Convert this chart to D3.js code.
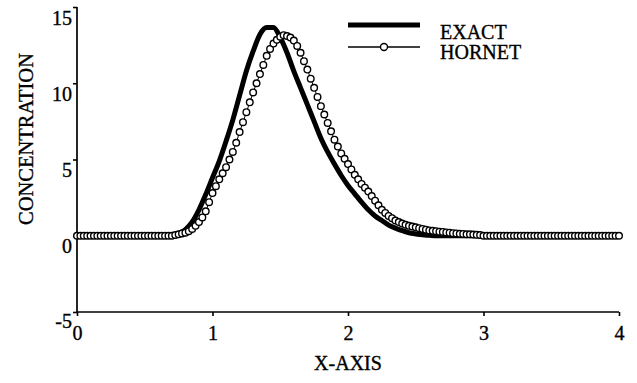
<!DOCTYPE html>
<html>
<head>
<meta charset="utf-8">
<script src="https://cdn.jsdelivr.net/npm/d3@7"></script>
<style>
  html, body { margin: 0; padding: 0; background: #fff; }
  svg { display: block; }
  text { font-family: "Liberation Serif", "Times New Roman", serif; fill: #000; stroke: #000; stroke-width: 0.35px; }
</style>
</head>
<body>
<svg id="chart" width="637" height="383"></svg>
<script>
// Exact solution, sampled every 0.05 on x from 0 to 4
const exactStep = 0.05;
const exactValues = [
  0, 0, 0, 0, 0, 0, 0, 0, 0, 0,
  0, 0, 0, 0, 0, 0.15, 0.4, 0.9, 1.7, 2.7,
  3.8, 4.9, 6.2, 7.6, 9.2, 10.8, 12.1, 13.2, 13.65, 13.65,
  13.0, 12.0, 10.8, 9.7, 8.6, 7.5, 6.4, 5.5, 4.7, 3.95,
  3.3, 2.75, 2.2, 1.7, 1.3, 1.0, 0.7, 0.5, 0.33, 0.2,
  0.12, 0.06, 0.03, 0, 0, 0, 0, 0, 0, 0,
  0, 0, 0, 0, 0, 0, 0, 0, 0, 0,
  0, 0, 0, 0, 0, 0, 0, 0, 0, 0,
  0
];

// HORNET result, sampled every 0.025 on x from 0 to 4
const hornetStep = 0.025;
const hornetValues = [
  0, 0, 0, 0, 0, 0, 0, 0, 0, 0,
  0, 0, 0, 0, 0, 0, 0, 0, 0, 0,
  0, 0, 0, 0, 0, 0, 0, 0, 0, 0.05,
  0.1, 0.15, 0.2, 0.3, 0.45, 0.65, 0.9, 1.2, 1.6, 2.2,
  2.8, 3.25, 3.7, 4.1, 4.5, 5.0, 5.5, 6.1, 6.8, 7.45,
  8.1, 8.75, 9.4, 10.0, 10.6, 11.2, 11.8, 12.25, 12.6, 12.85,
  13.05, 13.15, 13.1, 13.0, 12.8, 12.45, 12.0, 11.45, 10.9, 10.3,
  9.7, 9.1, 8.5, 7.95, 7.4, 6.85, 6.3, 5.85, 5.4, 5.05,
  4.7, 4.35, 4.0, 3.7, 3.4, 3.15, 2.9, 2.6, 2.3, 2.0,
  1.7, 1.5, 1.3, 1.15, 1.0, 0.9, 0.8, 0.72, 0.65, 0.6,
  0.55, 0.5, 0.45, 0.4, 0.35, 0.32, 0.3, 0.27, 0.25, 0.22,
  0.2, 0.17, 0.15, 0.13, 0.12, 0.1, 0.1, 0.08, 0.06, 0.05,
  0, 0, 0, 0, 0, 0, 0, 0, 0, 0,
  0, 0, 0, 0, 0, 0, 0, 0, 0, 0,
  0, 0, 0, 0, 0, 0, 0, 0, 0, 0,
  0, 0, 0, 0, 0, 0, 0, 0, 0, 0,
  0
];

const xTicks = [0, 1, 2, 3, 4];
const yTicks = [-5, 0, 5, 10, 15];
const seriesNames = ["EXACT", "HORNET"];
const xTitle = "X-AXIS";
const yTitle = "CONCENTRATION";

const exactData = exactValues.map((v, i) => ({ x: i * exactStep, y: v }));
const hornetData = hornetValues.map((v, i) => ({ x: i * hornetStep, y: v }));

const svg = d3.select("#chart");
const plotLeft = 77, plotRight = 619, plotTop = 7, plotBottom = 312;

const x = d3.scaleLinear().domain([0, 4]).range([plotLeft, plotRight]);
const y = d3.scaleLinear().domain([-5, 15]).range([plotBottom, plotTop]);

// Plain hyphen for negative tick labels
const fmt = d => String(d);

// Axes
const xAxis = d3.axisBottom(x).tickValues(xTicks).tickSize(4).tickPadding(10).tickFormat(fmt);
const gx = svg.append("g").attr("transform", `translate(0,${plotBottom})`).call(xAxis);
gx.select(".domain").attr("d", `M${plotLeft},0H${plotRight}`).attr("stroke", "#000").attr("stroke-width", 1.7);
gx.selectAll(".tick line").attr("stroke", "#000").attr("stroke-width", 1.6);
gx.selectAll(".tick text").attr("font-size", 20).attr("font-family", "Liberation Serif").attr("fill", "#000");

const yAxis = d3.axisLeft(y).tickValues(yTicks).tickSize(4).tickPadding(1).tickFormat(fmt);
const gy = svg.append("g").attr("transform", `translate(${plotLeft},0)`).call(yAxis);
gy.select(".domain").attr("d", `M0,${plotTop}V${plotBottom}`).attr("stroke", "#000").attr("stroke-width", 1.7);
gy.selectAll(".tick line").attr("stroke", "#000").attr("stroke-width", 1.6);
gy.selectAll(".tick text").attr("font-size", 20).attr("font-family", "Liberation Serif")
  .attr("fill", "#000").attr("dy", d => d < 0 ? "0.75em" : "0.85em");

// Axis titles
svg.append("text").attr("x", (plotLeft + plotRight) / 2).attr("y", 370)
  .attr("text-anchor", "middle").attr("font-size", 20).text(xTitle);
svg.append("text").attr("transform", "translate(33,139) rotate(-90)")
  .attr("text-anchor", "middle").attr("font-size", 20.5).text(yTitle);

// Exact curve: heavy line
const exactLine = d3.line().x(d => x(d.x)).y(d => y(d.y)).curve(d3.curveMonotoneX);
svg.append("path").datum(exactData).attr("d", exactLine)
  .attr("fill", "none").attr("stroke", "#000").attr("stroke-width", 5)
  .attr("stroke-linejoin", "round").attr("stroke-linecap", "round");

// HORNET: thin line with open circles
const hornetLine = d3.line().x(d => x(d.x)).y(d => y(d.y));
svg.append("path").datum(hornetData).attr("d", hornetLine)
  .attr("fill", "none").attr("stroke", "#000").attr("stroke-width", 1);
svg.append("g").selectAll("circle").data(hornetData).join("circle")
  .attr("cx", d => x(d.x)).attr("cy", d => y(d.y)).attr("r", 3.3)
  .attr("fill", "#fff").attr("stroke", "#000").attr("stroke-width", 1.4);

// Legend
const lg = svg.append("g");
lg.append("line").attr("x1", 348).attr("x2", 420).attr("y1", 25).attr("y2", 25)
  .attr("stroke", "#000").attr("stroke-width", 5);
lg.append("line").attr("x1", 348).attr("x2", 420).attr("y1", 47).attr("y2", 47)
  .attr("stroke", "#000").attr("stroke-width", 1.6);
lg.append("circle").attr("cx", 384).attr("cy", 47).attr("r", 3.5)
  .attr("fill", "#fff").attr("stroke", "#000").attr("stroke-width", 1.4);
lg.append("text").attr("x", 440).attr("y", 39).attr("font-size", 20).text(seriesNames[0]);
lg.append("text").attr("x", 440).attr("y", 59).attr("font-size", 20).text(seriesNames[1]);
</script>
</body>
</html>
